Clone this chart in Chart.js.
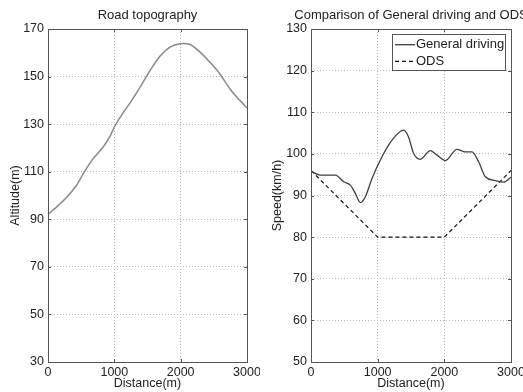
<!DOCTYPE html>
<html>
<head>
<meta charset="utf-8">
<script src="https://cdn.jsdelivr.net/npm/chart.js@4.4.0/dist/chart.umd.min.js"></script>
<style>
html,body{margin:0;padding:0;background:#fff;width:523px;height:392px;overflow:hidden;}
canvas{position:absolute;top:0;}
#c1{left:0;}
#c2{left:260px;}
</style>
</head>
<body>
<canvas id="c1" width="260" height="392"></canvas>
<canvas id="c2" width="263" height="392"></canvas>
<script>
// ---- Data ----
const altDistance = [0,120,272,424,550,677,829,930,1000,1110,1250,1387,1538,1688,1839,1990,2140,2291,2442,2592,2743,2894,3000];
const altitude    = [92.1,94.9,98.9,104.1,110,115.4,120.3,124.6,128.8,133.8,139.5,145.5,152.5,158.5,162.4,163.8,163.5,160.3,156,151.1,144.8,139.9,136.8];

const speedDistance = [0,140,365,490,590,665,740,815,915,1065,1215,1390,1460,1540,1640,1790,1890,2015,2190,2315,2415,2515,2615,2765,2890,3000];
const generalSpeed  = [95.8,94.9,94.9,93.3,92.5,90.5,88.3,89.7,94.1,99.3,103.3,105.7,104.2,100.1,98.7,100.8,99.7,98.4,101.1,100.5,100.5,98.1,94.5,93.6,93.2,94.4];

const odsDistance = [0,1000,2000,3000];
const odsSpeed    = [96,80,80,96];

const xTicks = [0,1000,2000,3000];
const altTicks = [30,50,70,90,110,130,150,170];
const speedTicks = [50,60,70,80,90,100,110,120,130];

const titles = ["Road topography", "Comparison of General driving and ODS"];
const legendLabels = ["General driving", "ODS"];

const FONT = "'Liberation Sans', Arial, sans-serif";
const TXT = '#222';
const BOX = '#555';

function pts(xs, ys){ return xs.map((x,i)=>({x:x, y:ys[i]})); }

function framePlugin(title, legend){
  return {
    id:'frame',
    afterDraw(chart){
      const ctx = chart.ctx, a = chart.chartArea;
      ctx.save();
      ctx.strokeStyle = BOX; ctx.lineWidth = 1; ctx.setLineDash([]);
      ctx.strokeRect(Math.round(a.left)+0.5, Math.round(a.top)+0.5, Math.round(a.right-a.left), Math.round(a.bottom-a.top));
      const xs = chart.scales.x, ys = chart.scales.y;
      ctx.beginPath();
      xs.ticks.forEach(t=>{
        const p = Math.round(xs.getPixelForValue(t.value))+0.5;
        ctx.moveTo(p, a.bottom); ctx.lineTo(p, a.bottom-3);
        ctx.moveTo(p, a.top); ctx.lineTo(p, a.top+3);
      });
      ys.ticks.forEach(t=>{
        const p = Math.round(ys.getPixelForValue(t.value))+0.5;
        ctx.moveTo(a.left, p); ctx.lineTo(a.left+3, p);
        ctx.moveTo(a.right, p); ctx.lineTo(a.right-3, p);
      });
      ctx.stroke();
      ctx.fillStyle = TXT;
      ctx.font = '13px ' + FONT;
      ctx.textAlign = 'center'; ctx.textBaseline = 'middle';
      ctx.fillText(title, (a.left+a.right)/2, 15);
      if (legend){
        const bx = 132.5, by = 34.5, bw = 113, bh = 36;
        ctx.fillStyle = '#fff';
        ctx.fillRect(bx, by, bw, bh);
        ctx.strokeStyle = BOX; ctx.strokeRect(bx, by, bw, bh);
        const ds = chart.data.datasets;
        const rows = [44.7, 61.3];
        ds.forEach((d,i)=>{
          ctx.strokeStyle = d.borderColor; ctx.lineWidth = d.borderWidth;
          ctx.setLineDash(d.borderDash || []);
          ctx.beginPath(); ctx.moveTo(135, rows[i]); ctx.lineTo(155, rows[i]); ctx.stroke();
          ctx.setLineDash([]);
          ctx.fillStyle = TXT; ctx.font = '13px ' + FONT;
          ctx.textAlign = 'left'; ctx.textBaseline = 'middle';
          ctx.fillText(d.label, 156, rows[i]);
        });
      }
      ctx.restore();
    }
  };
}

function axisOptions(min, max, ticks, xTitle, yTitle, yWidth, yTitlePad){
  return {
    x: {
      type:'linear', min:0, max:3000,
      afterBuildTicks(s){ s.ticks = xTicks.map(v=>({value:v})); },
      afterFit(s){ s.height = 30; s.paddingLeft = 0; s.paddingRight = 0; },
      grid:{ color:'#b8b8b8', lineWidth:1, drawTicks:false },
      border:{ display:false, dash:[1,2] },
      ticks:{ color:TXT, font:{family:FONT, size:12.5}, padding:3, maxRotation:0, autoSkip:false,
              callback:(v)=>String(v) },
      title:{ display:true, text:xTitle, color:TXT, font:{family:FONT, size:12.5}, padding:{top:0,bottom:0.5} }
    },
    y: {
      type:'linear', min:min, max:max,
      afterBuildTicks(s){ s.ticks = ticks.map(v=>({value:v})); },
      afterFit(s){ s.width = yWidth; s.paddingTop = 0; s.paddingBottom = 0; },
      grid:{ color:'#b8b8b8', lineWidth:1, drawTicks:false },
      border:{ display:false, dash:[1,2] },
      ticks:{ color:TXT, font:{family:FONT, size:12.5}, padding:4, autoSkip:false,
              callback:(v)=>String(v) },
      title:{ display:true, text:yTitle, color:TXT, font:{family:FONT, size:12.5}, padding:{top:yTitlePad,bottom:0} }
    }
  };
}

new Chart(document.getElementById('c1'), {
  type:'scatter',
  data:{ datasets:[{
    label:'Altitude', data: pts(altDistance, altitude), showLine:true,
    borderColor:'#8a8a8a', borderWidth:1.5, pointRadius:0, tension:0.3, fill:false
  }]},
  options:{
    responsive:false, animation:false, devicePixelRatio:1,
    layout:{ padding:{ top:29, right:13, left:0, bottom:0 } },
    plugins:{ legend:{display:false}, title:{display:false}, tooltip:{enabled:false} },
    scales: axisOptions(30, 170, altTicks, 'Distance(m)', 'Altitude(m)', 48, 8)
  },
  plugins:[framePlugin(titles[0], false)]
});

new Chart(document.getElementById('c2'), {
  type:'scatter',
  data:{ datasets:[
    { label:legendLabels[0], data: pts(speedDistance, generalSpeed), showLine:true,
      borderColor:'#404040', borderWidth:1.3, pointRadius:0, cubicInterpolationMode:'monotone', fill:false },
    { label:legendLabels[1], data: pts(odsDistance, odsSpeed), showLine:true,
      borderColor:'#111', borderWidth:1.2, borderDash:[4,3], pointRadius:0, tension:0, fill:false }
  ]},
  options:{
    responsive:false, animation:false, devicePixelRatio:1,
    layout:{ padding:{ top:29, right:12, left:0, bottom:0 } },
    plugins:{ legend:{display:false}, title:{display:false}, tooltip:{enabled:false} },
    scales: axisOptions(50, 130, speedTicks, 'Distance(m)', 'Speed(km/h)', 51, 10)
  },
  plugins:[framePlugin(titles[1], true)]
});
</script>
</body>
</html>
